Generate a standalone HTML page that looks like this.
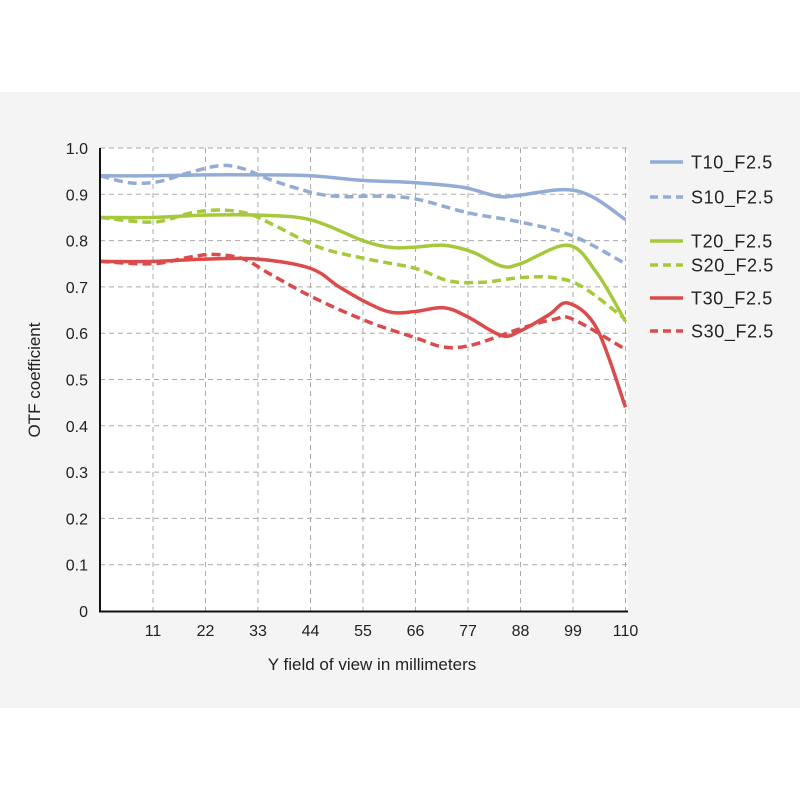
<!DOCTYPE html>
<html><head><meta charset="utf-8"><style>
html,body{margin:0;padding:0;background:#fff;}
svg{display:block;}
text{font-family:"Liberation Sans",sans-serif;fill:#222;}
</style></head><body>
<svg id="s" width="800" height="800" viewBox="0 0 800 800">
<rect x="0" y="92" width="800" height="616" fill="#f4f4f4"/>
<rect x="100" y="148" width="528" height="463" fill="#fff"/>
<g id="grid" stroke="#aaa" stroke-width="1" stroke-dasharray="5,4"></g>
<g id="curves" fill="none" stroke-width="3.5"></g>
<line x1="100" y1="148" x2="100" y2="612" stroke="#111" stroke-width="2"/>
<line x1="99" y1="611.5" x2="628" y2="611.5" stroke="#111" stroke-width="2"/>
<g id="lab" font-size="16"></g>
<text x="40" y="380" font-size="17" text-anchor="middle" transform="rotate(-90 40 380)">OTF coefficient</text>
<text x="372" y="670" font-size="17" text-anchor="middle">Y field of view in millimeters</text>
<g id="leg" font-size="18" letter-spacing="0.6"></g>
</svg>
<script>
const NS="http://www.w3.org/2000/svg";
const X=v=>100.5+v*525/110, Y=v=>611-463*v;
function el(p,t,a,txt){const e=document.createElementNS(NS,t);for(const k in a)e.setAttribute(k,a[k]);if(txt!==undefined)e.textContent=txt;document.getElementById(p).appendChild(e);}
for(let i=1;i<=10;i++){el('grid','line',{x1:100,x2:628,y1:Y(i/10),y2:Y(i/10)});
 el('lab','text',{x:88,y:Y(i/10)+6,'text-anchor':'end'},i==10?'1.0':'0.'+i);}
el('lab','text',{x:88,y:Y(0)+6,'text-anchor':'end'},'0');
for(let i=1;i<=10;i++){el('grid','line',{x1:X(i*11),x2:X(i*11),y1:148,y2:611});
 el('lab','text',{x:X(i*11),y:636,'text-anchor':'middle'},String(i*11));}
const B='#93acd6',G='#a5c93a',R='#dc4b4b';
const S=[
[B,0,[[0,.94],[11,.94],[22,.942],[33,.942],[44,.94],[55,.93],[66,.925],[76,.915],[83,.896],[87,.897],[97,.91],[103,.895],[110,.845]]],
[B,1,[[0,.94],[6,.925],[12,.927],[18,.945],[25,.962],[30,.955],[36,.93],[45,.902],[51,.895],[58,.896],[66,.89],[77,.86],[88,.84],[99,.81],[110,.75]]],
[G,0,[[0,.85],[11,.85],[22,.855],[33,.855],[44,.845],[55,.80],[61,.785],[66,.786],[72,.79],[78,.775],[84,.745],[88,.75],[98,.79],[104,.73],[110,.625]]],
[G,1,[[0,.85],[11,.84],[19,.86],[25,.866],[31,.858],[37,.83],[46,.785],[56,.76],[66,.74],[73,.713],[80,.71],[88,.72],[95,.72],[101,.70],[110,.63]]],
[R,0,[[0,.755],[11,.755],[22,.76],[33,.76],[44,.74],[50,.70],[56,.665],[61,.645],[66,.647],[72,.655],[77,.635],[84,.595],[88,.605],[94,.64],[98,.665],[104,.61],[110,.44]]],
[R,1,[[0,.755],[11,.75],[19,.765],[24,.77],[30,.76],[36,.725],[45,.675],[56,.625],[66,.59],[72,.57],[78,.575],[88,.61],[95,.63],[99,.63],[110,.565]]]];
const names=['T10_F2.5','S10_F2.5','T20_F2.5','S20_F2.5','T30_F2.5','S30_F2.5'];
S.forEach((s,k)=>{const p=s[2].map(q=>[X(q[0]),Y(q[1])]);let d='M'+p[0];
 for(let i=0;i<p.length-1;i++){const p0=p[i-1]||p[i],p1=p[i],p2=p[i+1],p3=p[i+2]||p2;
  d+=` C${p1[0]+(p2[0]-p0[0])/6},${p1[1]+(p2[1]-p0[1])/6} ${p2[0]-(p3[0]-p1[0])/6},${p2[1]-(p3[1]-p1[1])/6} ${p2[0]},${p2[1]}`;}
 const a={d:d,stroke:s[0]};if(s[1])a['stroke-dasharray']='9,5';el('curves','path',a);
 const ly=[162,197,241,265,298,331][k];
 const la={x1:650,x2:683,y1:ly,y2:ly,stroke:s[0],'stroke-width':3.5};if(s[1])la['stroke-dasharray']='8,5';el('leg','line',la);
 el('leg','text',{x:691,y:ly+6.5},names[k]);});
</script>
</body></html>
